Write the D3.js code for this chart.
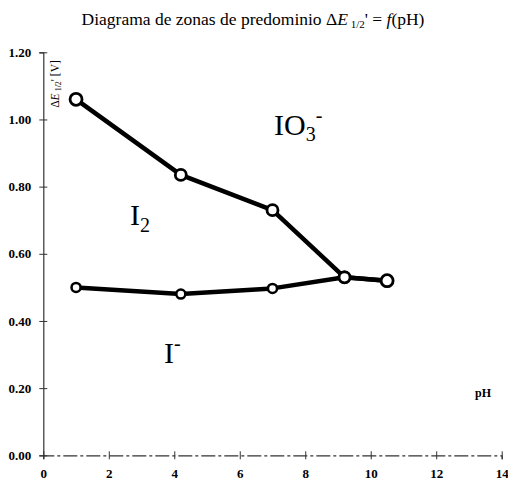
<!DOCTYPE html>
<html>
<head>
<meta charset="utf-8">
<script src="https://cdn.jsdelivr.net/npm/d3@7"></script>
<style>
  body { margin: 0; background: #fff; }
  svg { display: block; font-family: "Liberation Serif", "Times New Roman", serif; }
</style>
</head>
<body>
<svg id="chart" width="508" height="480"></svg>
<script>
// pH values of the measured points
const phValues = [1, 4.2, 7, 9.2, 10.5];
// upper boundary IO3- / I2 and lower boundary I2 / I-
const upperE = [1.06, 0.835, 0.73, 0.53, 0.52];
const lowerE = [0.50, 0.48, 0.497, 0.53, 0.52];
const xTicks = [0, 2, 4, 6, 8, 10, 12, 14];
const yTicks = [0, 0.2, 0.4, 0.6, 0.8, 1.0, 1.2];

const svg = d3.select("#chart");

const x = d3.scaleLinear().domain([0, 14]).range([43.3, 501.7]);
const y = d3.scaleLinear().domain([0, 1.2]).range([455.3, 52.3]);

// title
const title = svg.append("text")
  .attr("x", 253).attr("y", 25)
  .attr("text-anchor", "middle")
  .style("font-size", "17.5px");
title.append("tspan").text("Diagrama de zonas de predominio Δ");
title.append("tspan").style("font-style", "italic").text("E");
title.append("tspan").attr("dy", 3).style("font-size", "11px").text(" 1/2");
title.append("tspan").attr("dy", -3).text("' = ");
title.append("tspan").style("font-style", "italic").text("f");
title.append("tspan").text("(pH)");

// y axis
const yAxis = svg.append("g")
  .attr("transform", `translate(${x(0)},0)`)
  .call(d3.axisLeft(y).tickValues(yTicks).tickFormat(d3.format(".2f")).tickSize(4).tickPadding(8));
yAxis.select(".domain").attr("stroke", "#333").attr("stroke-width", 1.2);
yAxis.selectAll(".tick line").attr("x2", 4).attr("x1", -4).attr("stroke", "#333");
yAxis.selectAll(".tick text")
  .style("font-family", "'Liberation Serif', serif")
  .style("font-weight", "bold")
  .style("font-size", "13px")
  .attr("fill", "#000");

// x axis
const xAxis = svg.append("g")
  .attr("transform", `translate(0,${y(0)})`)
  .call(d3.axisBottom(x).tickValues(xTicks).tickFormat(d3.format("d")).tickSize(4).tickPadding(9));
xAxis.select(".domain").attr("stroke", "#333").attr("stroke-width", 1.2)
  .attr("stroke-dasharray", "14,3,3,3");
xAxis.selectAll(".tick line").attr("y1", -4).attr("y2", 4).attr("stroke", "#333");
xAxis.selectAll(".tick text")
  .style("font-family", "'Liberation Serif', serif")
  .style("font-weight", "bold")
  .style("font-size", "13px")
  .attr("fill", "#000");

// y axis label
const yl = svg.append("text")
  .attr("transform", "translate(59,84) rotate(-90)")
  .attr("text-anchor", "middle")
  .style("font-size", "11.5px");
yl.append("tspan").text("Δ");
yl.append("tspan").style("font-style", "italic").text("E");
yl.append("tspan").attr("dy", 2).style("font-size", "8px").text(" 1/2");
yl.append("tspan").attr("dy", -2).text("' [V]");

// pH label
svg.append("text")
  .attr("x", 475).attr("y", 397)
  .style("font-size", "12px").style("font-weight", "bold")
  .text("pH");

const line = d3.line().x(d => x(d[0])).y(d => y(d[1]));
const upper = phValues.map((p, i) => [p, upperE[i]]);
const lower = phValues.map((p, i) => [p, lowerE[i]]);

[upper, lower].forEach(series => {
  svg.append("path")
    .datum(series)
    .attr("d", line)
    .attr("fill", "none")
    .attr("stroke", "#000")
    .attr("stroke-width", 4.5)
    .attr("stroke-linejoin", "round");
});

svg.append("g").selectAll("circle")
  .data(lower)
  .join("circle")
  .attr("cx", d => x(d[0])).attr("cy", d => y(d[1]))
  .attr("r", d => d[0] > 9 ? 5.5 : 4.5)
  .attr("fill", "#fff").attr("stroke", "#000").attr("stroke-width", 2.5);

svg.append("g").selectAll("circle")
  .data(upper)
  .join("circle")
  .attr("cx", d => x(d[0])).attr("cy", d => y(d[1]))
  .attr("r", d => d[0] === 1 || d[0] > 10 ? 6 : 5.5)
  .attr("fill", "#fff").attr("stroke", "#000").attr("stroke-width", 2.8);

// zone labels
const io3 = svg.append("text").attr("x", 274).attr("y", 135).style("font-size", "30px");
io3.append("tspan").text("IO");
io3.append("tspan").attr("dy", 6).style("font-size", "20px").text("3");
io3.append("tspan").attr("dy", -19).style("font-size", "20px").text("-");

const i2 = svg.append("text").attr("x", 130).attr("y", 225).style("font-size", "30px");
i2.append("tspan").text("I");
i2.append("tspan").attr("dy", 7).style("font-size", "20px").text("2");

const im = svg.append("text").attr("x", 164).attr("y", 363).style("font-size", "30px");
im.append("tspan").text("I");
im.append("tspan").attr("dy", -13).style("font-size", "20px").text("-");
</script>
</body>
</html>
